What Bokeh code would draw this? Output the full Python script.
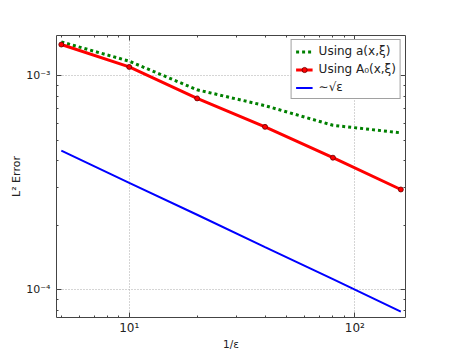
from bokeh.plotting import figure
from bokeh.models import (Range1d, FixedTicker, CustomJSTickFormatter, LogAxis,
                          Legend, LegendItem)
from bokeh.embed import file_html
from bokeh.resources import INLINE

# ---- data ----
inv_eps = [5, 10, 20, 40, 80, 160]
err_a = [1.44e-3, 1.17e-3, 8.6e-4, 7.25e-4, 5.87e-4, 5.41e-4]
err_A0 = [1.40e-3, 1.10e-3, 7.84e-4, 5.77e-4, 4.14e-4, 2.94e-4]
ref_sqrt = [4.47e-4, 3.16e-4, 2.24e-4, 1.58e-4, 1.12e-4, 7.9e-5]

x_major = [10, 100]
x_labels = ["10¹", "10²"]
y_major = [1e-4, 1e-3]
y_labels = ["10⁻⁴", "10⁻³"]

label_a = "Using a(x,ξ)"
label_A0 = "Using A₀(x,ξ)"
label_ref = "∼√ε"
x_title = "1/ε"
y_title = "L² Error"

x_minor = [m * 10 ** e for e in range(0, 3) for m in range(2, 10)]
y_minor = [m * 10.0 ** e for e in range(-5, -2) for m in range(2, 10)]

FONT = "DejaVu Sans"
FRAME = "#444444"

p = figure(width=434, height=352, x_axis_type="log", y_axis_type="log",
           x_range=Range1d(4.76, 167.8), y_range=Range1d(7.41e-5, 1.543e-3),
           output_backend="svg", toolbar_location=None,
           min_border_left=56, min_border_right=29,
           min_border_top=35, min_border_bottom=34)
p.background_fill_color = "white"
p.border_fill_color = "white"
p.outline_line_color = FRAME
p.outline_line_width = 1

xt = FixedTicker(ticks=x_major, minor_ticks=x_minor)
yt = FixedTicker(ticks=y_major, minor_ticks=y_minor)

fmt_code = """
for (let i = 0; i < vals.length; i++) {
  if (Math.abs(tick - vals[i]) <= 1e-6 * Math.abs(vals[i])) return labs[i];
}
return "";
"""
xf = CustomJSTickFormatter(args=dict(vals=x_major, labs=x_labels), code=fmt_code)
yf = CustomJSTickFormatter(args=dict(vals=y_major, labs=y_labels), code=fmt_code)

def style_axis(ax, ticker, fmt):
    ax.ticker = ticker
    ax.formatter = fmt
    ax.axis_line_color = None
    ax.major_tick_in = 5
    ax.major_tick_out = 0
    ax.minor_tick_in = 2
    ax.minor_tick_out = 0
    ax.major_tick_line_color = FRAME
    ax.minor_tick_line_color = FRAME
    ax.major_label_text_font = FONT
    ax.major_label_text_color = "#222222"
    ax.axis_label_text_font = FONT
    ax.axis_label_text_font_style = "normal"
    ax.axis_label_text_color = "#222222"

style_axis(p.xaxis[0], xt, xf)
style_axis(p.yaxis[0], yt, yf)
p.xaxis.major_label_text_font_size = "12px"
p.xaxis.axis_label = x_title
p.xaxis.axis_label_text_font_size = "10.5px"
p.xaxis.major_label_standoff = 3
p.xaxis.axis_label_standoff = 0
p.yaxis.major_label_text_font_size = "11px"
p.yaxis.axis_label = y_title
p.yaxis.axis_label_text_font_size = "11px"
p.yaxis.major_label_standoff = 6
p.yaxis.axis_label_standoff = 0

# mirrored ticks on top and right
blank = CustomJSTickFormatter(code='return "";')
for loc, tk in (("above", xt), ("right", yt)):
    ax = LogAxis(ticker=tk, formatter=blank)
    ax.axis_line_color = None
    ax.major_tick_in = 5
    ax.major_tick_out = 0
    ax.minor_tick_in = 2
    ax.minor_tick_out = 0
    ax.major_tick_line_color = FRAME
    ax.minor_tick_line_color = FRAME
    ax.major_label_text_font_size = "0px"
    ax.major_label_standoff = 0
    p.add_layout(ax, loc)

p.xgrid.ticker = xt
p.ygrid.ticker = yt
for g in (p.xgrid[0], p.ygrid[0]):
    g.grid_line_color = "#aaaaaa"
    g.grid_line_dash = "1 2"
    g.grid_line_width = 1
    g.minor_grid_line_color = None

r_a = p.line(inv_eps, err_a, line_color="#008000", line_width=3,
             line_dash="3 3")
r_A0 = p.line(inv_eps, err_A0, line_color="#ff0000", line_width=3)
r_A0m = p.scatter(inv_eps, err_A0, size=5, marker="circle",
                  fill_color="#ff0000", line_color="#660000", line_width=0.8)
r_ref = p.line(inv_eps, ref_sqrt, line_color="#0000ff", line_width=2)

legend = Legend(items=[
    LegendItem(label=label_a, renderers=[r_a]),
    LegendItem(label=label_A0, renderers=[r_A0, r_A0m]),
    LegendItem(label=label_ref, renderers=[r_ref]),
], location="top_right")
legend.margin = 4
legend.padding = 4
legend.spacing = 4
legend.glyph_width = 17
legend.glyph_height = 13
legend.label_height = 13
legend.label_standoff = 6
legend.label_text_font = FONT
legend.label_text_font_size = "12px"
legend.label_text_color = "#222222"
legend.border_line_color = FRAME
legend.border_line_width = 1
legend.background_fill_color = "white"
legend.background_fill_alpha = 1
p.add_layout(legend, "center")

open("out.html", "w").write(file_html(p, INLINE))
